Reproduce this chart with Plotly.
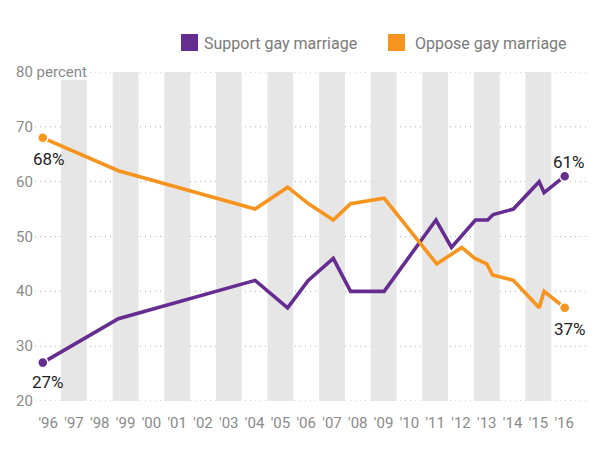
import plotly.graph_objects as go

# ---- data ----
support_x = [1995.79, 1998.72, 2004.02, 2005.28, 2006.08, 2007.05, 2007.72, 2009.02,
             2011.03, 2011.63, 2012.56, 2013.03, 2013.25, 2014.03, 2015.03, 2015.22, 2016.02]
support = [27, 35, 42, 37, 42, 46, 40, 40, 53, 48, 53, 53, 54, 55, 60, 58, 61]

oppose_x = [1995.79, 1998.72, 2004.02, 2005.28, 2006.08, 2007.05, 2007.72, 2009.02,
            2011.06, 2012.03, 2012.54, 2013.00, 2013.22, 2014.03, 2015.03, 2015.22, 2016.02]
oppose = [68, 62, 55, 59, 56, 53, 56, 57, 45, 48, 46, 45, 43, 42, 37, 40, 37]

tick_years = list(range(1996, 2017))
tick_labels = ["'96", "'97", "'98", "'99", "'00", "'01", "'02", "'03", "'04", "'05", "'06",
               "'07", "'08", "'09", "'10", "'11", "'12", "'13", "'14", "'15", "'16"]
band_years = [1997, 1999, 2001, 2003, 2005, 2007, 2009, 2011, 2013, 2015]
y_ticks = [20, 30, 40, 50, 60, 70, 80]
y_tick_labels = ["20", "30", "40", "50", "60", "70", "80 percent"]

series_names = ["Support gay marriage", "Oppose gay marriage"]
end_labels_support = ["27%", "61%"]
end_labels_oppose = ["68%", "37%"]

PURPLE = "#662d91"
ORANGE = "#f7941d"
FONT = "Roboto, sans-serif"

W, H = 600, 450
ML, MR, MT, MB = 35, 10, 72, 49
PW, PH = W - ML - MR, H - MT - MB


def pxx(x):
    return (x - ML) / PW


def pxy(y):
    return (H - MB - y) / PH


fig = go.Figure()

for xs, ys, col, name in [(support_x, support, PURPLE, series_names[0]),
                          (oppose_x, oppose, ORANGE, series_names[1])]:
    fig.add_trace(go.Scatter(x=xs, y=ys, mode="lines", line=dict(color=col, width=3.6),
                             name=name, showlegend=False, hoverinfo="skip"))
    fig.add_trace(go.Scatter(x=[xs[0], xs[-1]], y=[ys[0], ys[-1]], mode="markers",
                             marker=dict(color=col, size=10, line=dict(color="white", width=1.5)),
                             showlegend=False, hoverinfo="skip", cliponaxis=False))

shapes = []
# alternating gray bands
for i, yr in enumerate(band_years):
    shapes.append(dict(type="rect", xref="x", yref="y", x0=yr - 0.5, x1=yr + 0.5,
                       y0=20, y1=78.6 if i == 0 else 80, fillcolor="#e6e6e6",
                       line=dict(width=0), layer="below"))
# dotted gridlines
for v in y_ticks:
    shapes.append(dict(type="line", xref="paper", yref="y",
                       x0=pxx(90) if v == 80 else 0, x1=pxx(588), y0=v, y1=v,
                       line=dict(color="#b0b0b0", width=1, dash="1px,4px"), layer="below"))
# legend squares
shapes.append(dict(type="rect", xref="paper", yref="paper", x0=pxx(181), x1=pxx(198),
                   y0=pxy(51), y1=pxy(34), fillcolor=PURPLE, line=dict(width=0)))
shapes.append(dict(type="rect", xref="paper", yref="paper", x0=pxx(388), x1=pxx(405),
                   y0=pxy(51), y1=pxy(34), fillcolor=ORANGE, line=dict(width=0)))

annotations = []
# y tick labels
for v, lab in zip(y_ticks, y_tick_labels):
    annotations.append(dict(x=pxx(14), y=v, xref="paper", yref="y", text=lab,
                            showarrow=False, xanchor="left", yanchor="middle",
                            font=dict(family=FONT, size=15, color="#8a8a8a")))
# legend texts
annotations.append(dict(x=pxx(202), y=pxy(43), xref="paper", yref="paper", text=series_names[0],
                        showarrow=False, xanchor="left", yanchor="middle",
                        font=dict(family=FONT, size=16, color="#7a7a7a")))
annotations.append(dict(x=pxx(413), y=pxy(43), xref="paper", yref="paper", text=series_names[1],
                        showarrow=False, xanchor="left", yanchor="middle",
                        font=dict(family=FONT, size=16, color="#7a7a7a")))
# end labels
lab_font = dict(family=FONT, size=17, color="#222222")
annotations.append(dict(x=support_x[0], y=support[0], text=end_labels_support[0], showarrow=False,
                        xshift=5, yshift=-19, font=lab_font))
annotations.append(dict(x=support_x[-1], y=support[-1], text=end_labels_support[1], showarrow=False,
                        xshift=4, yshift=14, font=lab_font))
annotations.append(dict(x=oppose_x[0], y=oppose[0], text=end_labels_oppose[0], showarrow=False,
                        xshift=6, yshift=-21, font=lab_font))
annotations.append(dict(x=oppose_x[-1], y=oppose[-1], text=end_labels_oppose[1], showarrow=False,
                        xshift=5, yshift=-21, font=lab_font))

x0 = 1996 + (ML - 48.2) / 25.8
x1 = 1996 + (W - MR - 48.2) / 25.8

fig.update_layout(
    width=W, height=H,
    margin=dict(l=ML, r=MR, t=MT, b=MB),
    paper_bgcolor="white", plot_bgcolor="white",
    shapes=shapes, annotations=annotations,
    showlegend=False,
    xaxis=dict(range=[x0, x1], tickvals=tick_years, ticktext=tick_labels,
               showgrid=False, zeroline=False, showline=False,
               ticks="outside", ticklen=8, tickcolor="rgba(0,0,0,0)",
               tickfont=dict(family=FONT, size=15, color="#8a8a8a"), fixedrange=True),
    yaxis=dict(range=[20, 80], showgrid=False, zeroline=False, showline=False,
               showticklabels=False, fixedrange=True),
)

fig.write_html("out.html")
